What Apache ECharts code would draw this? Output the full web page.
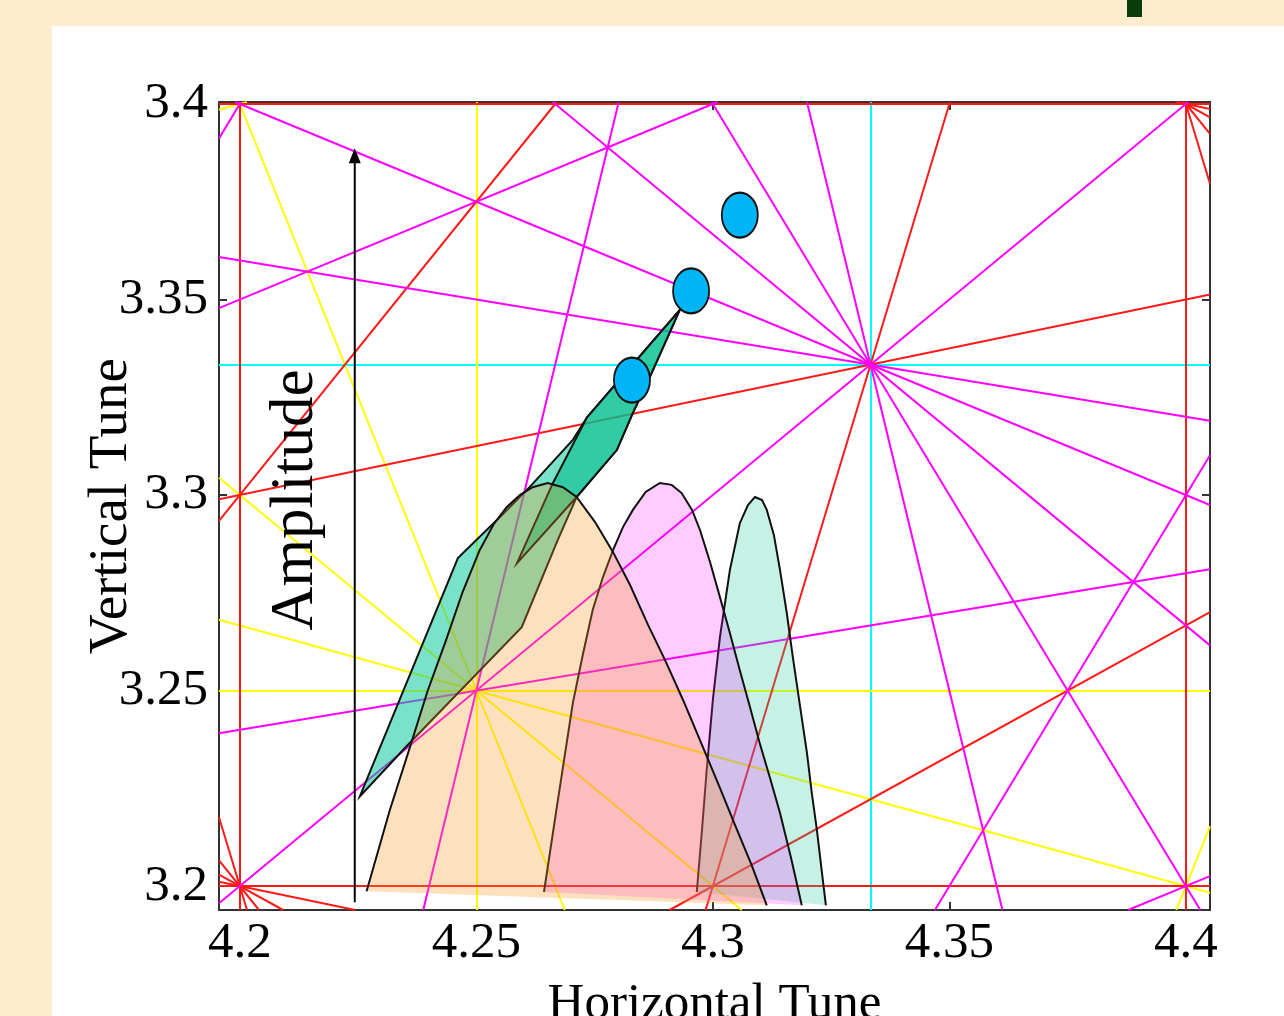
<!DOCTYPE html>
<html>
<head>
<meta charset="utf-8">
<title>Tune diagram</title>
<script src="https://cdn.jsdelivr.net/npm/echarts@6/dist/echarts.min.js"></script>
<style>
html, body { margin: 0; padding: 0; background: #FFEBCD; overflow: hidden; }
#panel { position: absolute; left: 52px; top: 26px; width: 1232px; height: 990px; background: #fff; }
#chart { position: absolute; left: 0; top: 0; width: 1284px; height: 1016px; }
</style>
</head>
<body>
<div id="panel"></div>
<div id="chart"></div>
<script>
// axis window (tune units)
const qxMin = 4.1956, qxMax = 4.4051;
const qyMin = 3.1939, qyMax = 3.4005;
const qxTicks = [4.2, 4.25, 4.3, 4.35, 4.4];
const qyTicks = [3.2, 3.25, 3.3, 3.35, 3.4];

// resonance lines  m*Qx + n*Qy = p
const res3rd = [[3, 0, 13], [0, 3, 10]];
const res4th = [[4, 0, 17], [0, 4, 13], [3, 1, 16], [1, 3, 14], [2, 2, 15], [3, -1, 10], [1, -3, -6]];
const res5th = [[5, 0, 21], [5, 0, 22], [0, 5, 16], [0, 5, 17], [4, 1, 20], [4, 1, 21], [4, -1, 14],
  [3, 2, 19], [3, 2, 20], [3, -2, 6], [2, 3, 18], [2, 3, 19], [2, -3, -1], [1, 4, 17], [1, 4, 18], [1, -4, -9]];
const res6th = [[5, 1, 25], [5, -1, 18], [4, 2, 24], [4, -2, 10], [4, -2, 11], [3, 3, 23], [3, -3, 3],
  [2, 4, 22], [2, -4, -4], [2, -4, -5], [1, 5, 21], [1, -5, -12]];

// tune footprints (outline points)
const archAQx = [4.2268, 4.2317, 4.2359, 4.2397, 4.2436, 4.2471, 4.2507, 4.2537, 4.2564, 4.2592, 4.2619, 4.2651,
  4.2683, 4.2712, 4.2751, 4.2789, 4.2825, 4.2863, 4.2899, 4.2937, 4.2973, 4.3011, 4.3047, 4.3082, 4.3114];
const archAQy = [3.1987, 3.2194, 3.2353, 3.2499, 3.2629, 3.2752, 3.2859, 3.2926, 3.2969, 3.3000, 3.3020, 3.3031,
  3.3020, 3.2995, 3.2931, 3.2854, 3.2770, 3.2668, 3.2578, 3.2476, 3.2373, 3.2263, 3.2156, 3.2054, 3.1951];

const archBQx = [4.2643, 4.2672, 4.2704, 4.2725, 4.2746, 4.2767, 4.2789, 4.2810, 4.2831, 4.2858, 4.2888, 4.2913,
  4.2934, 4.2956, 4.2973, 4.2994, 4.3015, 4.3036, 4.3057, 4.3078, 4.3099, 4.3121, 4.3142, 4.3165, 4.3188];
const archBQy = [3.1985, 3.2217, 3.2468, 3.2591, 3.2706, 3.2788, 3.2859, 3.2918, 3.2962, 3.3008, 3.3031, 3.3026,
  3.3005, 3.2962, 3.2910, 3.2829, 3.2739, 3.2647, 3.2552, 3.2460, 3.2366, 3.2276, 3.2187, 3.2074, 3.1951];

const archCQx = [4.2966, 4.2977, 4.2987, 4.3000, 4.3015, 4.3036, 4.3057, 4.3074, 4.3089, 4.3104, 4.3114,
  4.3129, 4.3142, 4.3156, 4.3169, 4.3184, 4.3199, 4.3209, 4.3220, 4.3230, 4.3239];
const archCQy = [3.1985, 3.2143, 3.2297, 3.2476, 3.2637, 3.2808, 3.2928, 3.2974, 3.2995, 3.2987, 3.2962,
  3.2898, 3.2808, 3.2701, 3.2586, 3.2463, 3.2340, 3.2240, 3.2143, 3.2041, 3.1951];

const trackOuterQx = [4.2254, 4.2461, 4.2550, 4.2617, 4.2704, 4.2734, 4.2930, 4.2867, 4.2831, 4.2797, 4.2712, 4.2672, 4.2596, 4.2355];
const trackOuterQy = [3.2230, 3.2839, 3.2944, 3.3026, 3.3141, 3.3199, 3.3473, 3.3302, 3.3210, 3.3115, 3.2995, 3.2885, 3.2662, 3.2361];
const trackInnerQx = [4.2586, 4.2662, 4.2734, 4.2930, 4.2867, 4.2831, 4.2797, 4.2712];
const trackInnerQy = [3.2826, 3.3031, 3.3199, 3.3473, 3.3302, 3.3210, 3.3115, 3.2995];

// working points
const blobQx = [4.3057, 4.2954, 4.2829];
const blobQy = [3.3716, 3.3522, 3.3294];

// amplitude arrow
const arrowQx = 4.2243;
const arrowQy = [3.1959, 3.3887];

// clip a resonance line to the plot window
function segment(r) {
  const m = r[0], n = r[1], p = r[2];
  const pts = [];
  const eps = 1e-9;
  if (n !== 0) {
    [qxMin, qxMax].forEach(function (x) {
      const y = (p - m * x) / n;
      if (y >= qyMin - eps && y <= qyMax + eps) pts.push([x, y]);
    });
  }
  if (m !== 0) {
    [qyMin, qyMax].forEach(function (y) {
      const x = (p - n * y) / m;
      if (x >= qxMin - eps && x <= qxMax + eps) pts.push([x, y]);
    });
  }
  if (pts.length < 2) return null;
  let a = pts[0], b = pts[1], best = 0;
  for (let i = 0; i < pts.length; i++) {
    for (let j = i + 1; j < pts.length; j++) {
      const d = Math.hypot(pts[i][0] - pts[j][0], pts[i][1] - pts[j][1]);
      if (d > best) { best = d; a = pts[i]; b = pts[j]; }
    }
  }
  return best > 0 ? { coords: [a, b] } : null;
}

function resonanceSeries(list, color) {
  return {
    type: 'lines',
    coordinateSystem: 'cartesian2d',
    silent: true,
    animation: false,
    clip: true,
    lineStyle: { color: color, width: 2, opacity: 1 },
    data: list.map(segment).filter(Boolean)
  };
}

function shapeSeries(qx, qy, fill, closedOutline) {
  return {
    type: 'custom',
    coordinateSystem: 'cartesian2d',
    silent: true,
    animation: false,
    data: [[qx[0], qy[0]]],
    renderItem: function (params, api) {
      const pts = qx.map(function (x, i) { return api.coord([x, qy[i]]); });
      const children = [{
        type: 'polygon',
        shape: { points: pts },
        style: { fill: fill, stroke: closedOutline ? '#111' : null, lineWidth: 2 }
      }];
      if (!closedOutline) {
        children.push({
          type: 'polyline',
          shape: { points: pts },
          style: { fill: null, stroke: '#111', lineWidth: 2 }
        });
      }
      return { type: 'group', children: children };
    }
  };
}

const serifFont = 'Liberation Serif';
const fmt = function (v) { return String(+Number(v).toFixed(2)); };

const chart = echarts.init(document.getElementById('chart'), null, { renderer: 'canvas' });

const option = {
  backgroundColor: 'transparent',
  animation: false,
  grid: { left: 219, top: 102, right: 74, bottom: 106, outerBoundsMode: 'none', containLabel: false },
  xAxis: [{
    type: 'value', min: qxMin, max: qxMax, position: 'bottom',
    name: 'Horizontal Tune', nameLocation: 'middle', nameGap: 69,
    nameTextStyle: { fontFamily: serifFont, fontSize: 51, color: '#000' },
    axisLine: { onZero: false, lineStyle: { color: '#333', width: 2 } },
    axisTick: { inside: true, length: 8, customValues: qxTicks, lineStyle: { color: '#333', width: 2 } },
    axisLabel: { customValues: qxTicks, formatter: fmt, margin: 8, fontFamily: serifFont, fontSize: 51, color: '#000' },
    splitLine: { show: false }
  }, {
    type: 'value', min: qxMin, max: qxMax, position: 'top',
    axisLine: { onZero: false, lineStyle: { color: '#333', width: 2 } },
    axisTick: { inside: true, length: 8, customValues: qxTicks, lineStyle: { color: '#333', width: 2 } },
    axisLabel: { show: false },
    splitLine: { show: false }
  }],
  yAxis: [{
    type: 'value', min: qyMin, max: qyMax, position: 'left',
    name: 'Vertical Tune', nameLocation: 'middle', nameGap: 80, nameMoveOverlap: false,
    nameTextStyle: { fontFamily: serifFont, fontSize: 55, color: '#000' },
    axisLine: { onZero: false, lineStyle: { color: '#333', width: 2 } },
    axisTick: { inside: true, length: 8, customValues: qyTicks, lineStyle: { color: '#333', width: 2 } },
    axisLabel: { customValues: qyTicks, formatter: fmt, margin: 11, fontFamily: serifFont, fontSize: 51, color: '#000' },
    splitLine: { show: false }
  }, {
    type: 'value', min: qyMin, max: qyMax, position: 'right',
    axisLine: { onZero: false, lineStyle: { color: '#333', width: 2 } },
    axisTick: { inside: true, length: 8, customValues: qyTicks, lineStyle: { color: '#333', width: 2 } },
    axisLabel: { show: false },
    splitLine: { show: false }
  }],
  graphic: [{
    type: 'rect', shape: { x: 1127, y: 0, width: 15, height: 17 }, style: { fill: '#0B3A0B' }
  }, {
    type: 'text', x: 296, y: 500, rotation: Math.PI / 2, z: 100,
    style: { text: 'Amplitude', fontFamily: serifFont, fontSize: 61, fill: '#000', align: 'center', verticalAlign: 'middle' }
  }],
  series: [
    resonanceSeries(res3rd, '#00ffff'),
    resonanceSeries(res4th, '#ffff00'),
    resonanceSeries(res5th, '#ff1a1a'),
    resonanceSeries(res6th, '#ff00ff'),
    shapeSeries(archCQx, archCQy, 'rgba(30,200,150,0.25)', false),
    shapeSeries(archBQx, archBQy, 'rgba(255,0,255,0.2)', false),
    {
      type: 'scatter', silent: true, animation: false,
      symbol: 'circle', symbolSize: [36, 45],
      itemStyle: { color: '#00B5F5', borderColor: '#111', borderWidth: 2, opacity: 1 },
      data: blobQx.map(function (x, i) { return [x, blobQy[i]]; })
    },
    shapeSeries(trackOuterQx, trackOuterQy, 'rgba(0,200,150,0.52)', true),
    shapeSeries(trackInnerQx, trackInnerQy, 'rgba(0,190,140,0.6)', true),
    shapeSeries(archAQx, archAQy, 'rgba(248,152,33,0.29)', false),
    {
      type: 'custom', coordinateSystem: 'cartesian2d', silent: true, animation: false,
      data: [[arrowQx, arrowQy[0]]],
      renderItem: function (params, api) {
        const b = api.coord([arrowQx, arrowQy[0]]);
        const t = api.coord([arrowQx, arrowQy[1]]);
        return {
          type: 'group',
          children: [{
            type: 'line',
            shape: { x1: b[0], y1: b[1], x2: t[0], y2: t[1] + 12 },
            style: { stroke: '#000', lineWidth: 2 }
          }, {
            type: 'polygon',
            shape: { points: [[t[0], t[1]], [t[0] - 6, t[1] + 15], [t[0] + 6, t[1] + 15]] },
            style: { fill: '#000' }
          }]
        };
      }
    }
  ]
};

chart.setOption(option);
</script>
</body>
</html>
